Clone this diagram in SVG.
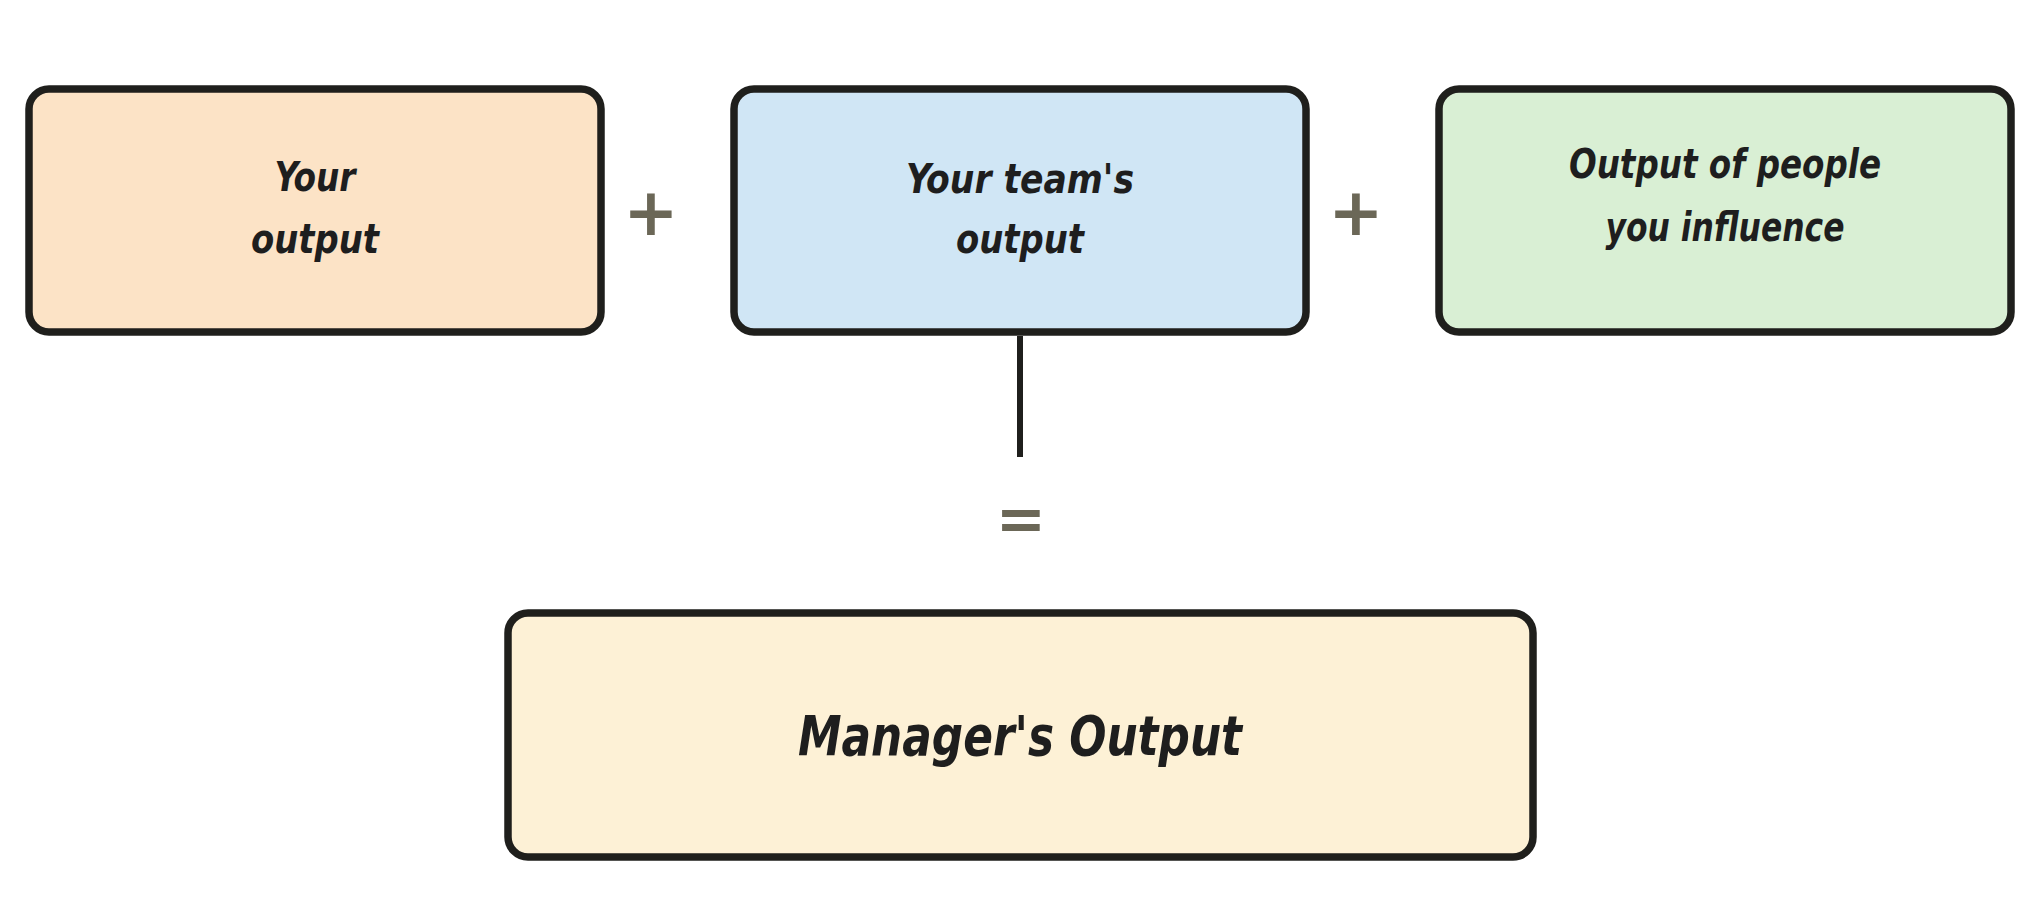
<svg xmlns="http://www.w3.org/2000/svg" width="2040" height="900" viewBox="0 0 2040 900">
<style>
.box{stroke:#1f1f1c;stroke-width:7.5;}
.t{font-family:"DejaVu Sans Condensed","Liberation Sans Narrow","DejaVu Sans",sans-serif;font-weight:bold;font-style:italic;fill:#1e1e1e;text-anchor:middle;}
.op{font-family:"DejaVu Sans",sans-serif;font-weight:bold;fill:#6b6757;text-anchor:middle;}
</style>
<rect width="2040" height="900" fill="#ffffff"/>
<g id="connectors">
<line x1="1020" y1="336" x2="1020" y2="457" stroke="#1f1f1c" stroke-width="6"/>
</g>
<g id="node-your-output">
<rect class="box" x="29" y="89" width="572" height="243" rx="20" fill="#fce3c6"/>
<text class="t" x="315" y="191" font-size="41" textLength="81" lengthAdjust="spacingAndGlyphs">Your</text>
<text class="t" x="315" y="253" font-size="41" textLength="128" lengthAdjust="spacingAndGlyphs">output</text>
</g>
<g id="op-plus-1"><text class="op" x="651" y="235" font-size="66">+</text></g>
<g id="node-team-output">
<rect class="box" x="734" y="89" width="572" height="243" rx="20" fill="#d0e6f5"/>
<text class="t" x="1020" y="193" font-size="41" textLength="228" lengthAdjust="spacingAndGlyphs">Your team's</text>
<text class="t" x="1020" y="253" font-size="41" textLength="128" lengthAdjust="spacingAndGlyphs">output</text>
</g>
<g id="op-plus-2"><text class="op" x="1356" y="235" font-size="66">+</text></g>
<g id="node-influence">
<rect class="box" x="1439" y="89" width="572" height="243" rx="20" fill="#d9efd4"/>
<text class="t" x="1725" y="178" font-size="41" textLength="312" lengthAdjust="spacingAndGlyphs">Output of people</text>
<text class="t" x="1725" y="241" font-size="41" textLength="239" lengthAdjust="spacingAndGlyphs">you influence</text>
</g>
<g id="op-equals"><text class="op" x="1021" y="540" font-size="60">=</text></g>
<g id="node-manager-output">
<rect class="box" x="508" y="613" width="1025" height="244" rx="20" fill="#fdf1d6"/>
<text class="t" x="1020" y="755" font-size="55" textLength="444" lengthAdjust="spacingAndGlyphs">Manager's Output</text>
</g>
</svg>
